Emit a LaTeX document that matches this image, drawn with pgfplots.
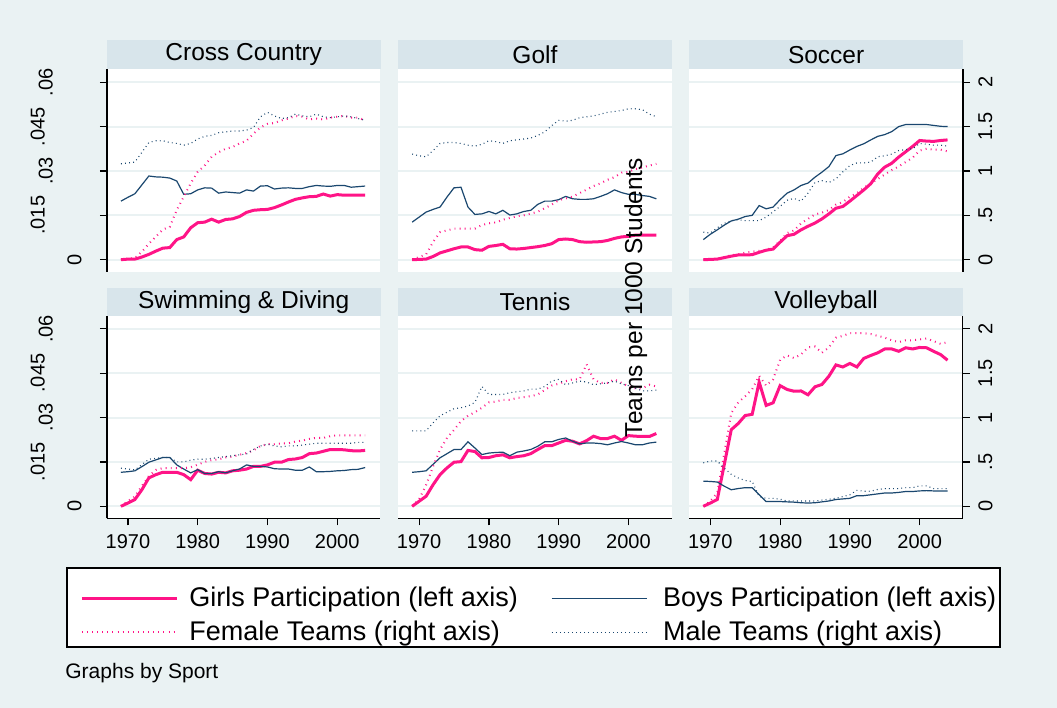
\documentclass[border=0pt]{standalone}
\usepackage{pgfplots}
\usepackage{pgfplotstable}
\pgfplotsset{compat=1.18}
\usepackage{fontspec}
\setmainfont{Liberation Sans}
\definecolor{bgc}{RGB}{234,242,243}
\definecolor{stripc}{RGB}{216,229,235}
\definecolor{gridc}{RGB}{234,242,243}
\definecolor{pinkc}{RGB}{255,20,135}
\definecolor{navyc}{RGB}{26,71,111}
\newcommand\dep[1]{\rule[-#1]{0pt}{#1}}

\pgfplotstableread{
year g b f m
1969 0.0000 0.0198 0.00 1.08
1970 0.0002 0.0211 0.01 1.09
1971 0.0002 0.0223 0.02 1.10
1972 0.0009 0.0253 0.09 1.21
1973 0.0018 0.0283 0.18 1.32
1974 0.0029 0.0280 0.26 1.34
1975 0.0039 0.0279 0.34 1.34
1976 0.0041 0.0276 0.37 1.32
1977 0.0068 0.0266 0.56 1.31
1978 0.0077 0.0221 0.71 1.29
1979 0.0108 0.0223 0.86 1.31
1980 0.0125 0.0236 0.99 1.36
1981 0.0127 0.0243 1.06 1.39
1982 0.0137 0.0242 1.16 1.40
1983 0.0127 0.0225 1.21 1.43
1984 0.0136 0.0229 1.25 1.44
1985 0.0138 0.0227 1.27 1.45
1986 0.0146 0.0225 1.31 1.45
1987 0.0160 0.0236 1.34 1.46
1988 0.0167 0.0232 1.42 1.49
1989 0.0169 0.0249 1.49 1.61
1990 0.0170 0.0250 1.53 1.66
1991 0.0176 0.0239 1.54 1.62
1992 0.0185 0.0242 1.57 1.59
1993 0.0195 0.0243 1.59 1.60
1994 0.0204 0.0241 1.62 1.64
1995 0.0209 0.0241 1.61 1.62
1996 0.0213 0.0247 1.58 1.61
1997 0.0214 0.0251 1.59 1.64
1998 0.0222 0.0249 1.58 1.61
1999 0.0215 0.0248 1.60 1.60
2000 0.0220 0.0251 1.61 1.61
2001 0.0218 0.0251 1.62 1.62
2002 0.0218 0.0245 1.60 1.61
2003 0.0218 0.0247 1.60 1.59
2004 0.0218 0.0249 1.57 1.57
}\tCC

\pgfplotstableread{
year g b f m
1969 0.0000 0.0127 0.00 1.19
1970 0.0001 0.0144 0.03 1.17
1971 0.0002 0.0161 0.06 1.16
1972 0.0011 0.0170 0.20 1.23
1973 0.0023 0.0178 0.31 1.31
1974 0.0030 0.0212 0.33 1.32
1975 0.0037 0.0243 0.35 1.32
1976 0.0043 0.0245 0.35 1.31
1977 0.0043 0.0178 0.35 1.29
1978 0.0034 0.0153 0.35 1.28
1979 0.0032 0.0155 0.39 1.30
1980 0.0045 0.0163 0.41 1.34
1981 0.0048 0.0155 0.42 1.33
1982 0.0052 0.0167 0.45 1.31
1983 0.0037 0.0151 0.47 1.34
1984 0.0036 0.0155 0.49 1.35
1985 0.0038 0.0163 0.50 1.36
1986 0.0041 0.0167 0.52 1.37
1987 0.0044 0.0187 0.54 1.40
1988 0.0048 0.0198 0.58 1.44
1989 0.0054 0.0198 0.62 1.51
1990 0.0068 0.0203 0.67 1.57
1991 0.0070 0.0214 0.69 1.56
1992 0.0068 0.0206 0.71 1.57
1993 0.0061 0.0204 0.75 1.60
1994 0.0059 0.0204 0.79 1.61
1995 0.0060 0.0206 0.83 1.62
1996 0.0061 0.0214 0.86 1.64
1997 0.0065 0.0223 0.90 1.66
1998 0.0072 0.0236 0.93 1.67
1999 0.0077 0.0227 0.98 1.68
2000 0.0079 0.0221 0.99 1.70
2001 0.0083 0.0221 1.02 1.70
2002 0.0083 0.0217 1.04 1.69
2003 0.0083 0.0214 1.06 1.64
2004 0.0083 0.0206 1.08 1.61
}\tGolf

\pgfplotstableread{
year g b f m
1969 0.0000 0.0068 0.00 0.31
1970 0.0001 0.0086 0.00 0.30
1971 0.0002 0.0101 0.01 0.36
1972 0.0007 0.0117 0.03 0.41
1973 0.0012 0.0131 0.05 0.44
1974 0.0016 0.0137 0.06 0.45
1975 0.0016 0.0146 0.08 0.44
1976 0.0017 0.0150 0.09 0.44
1977 0.0025 0.0183 0.10 0.44
1978 0.0032 0.0172 0.11 0.48
1979 0.0036 0.0178 0.14 0.54
1980 0.0059 0.0203 0.21 0.60
1981 0.0081 0.0225 0.30 0.67
1982 0.0086 0.0236 0.33 0.69
1983 0.0101 0.0251 0.41 0.66
1984 0.0113 0.0259 0.46 0.75
1985 0.0124 0.0279 0.51 0.87
1986 0.0138 0.0296 0.53 0.89
1987 0.0155 0.0315 0.56 0.87
1988 0.0174 0.0352 0.62 0.91
1989 0.0180 0.0358 0.65 0.99
1990 0.0198 0.0371 0.71 1.06
1991 0.0217 0.0383 0.75 1.09
1992 0.0236 0.0392 0.81 1.09
1993 0.0257 0.0405 0.86 1.10
1994 0.0290 0.0417 0.91 1.16
1995 0.0313 0.0423 0.96 1.17
1996 0.0326 0.0433 1.01 1.19
1997 0.0347 0.0450 1.05 1.23
1998 0.0365 0.0457 1.10 1.24
1999 0.0383 0.0457 1.15 1.25
2000 0.0403 0.0457 1.23 1.31
2001 0.0401 0.0457 1.25 1.30
2002 0.0400 0.0454 1.24 1.29
2003 0.0403 0.0451 1.24 1.29
2004 0.0405 0.0450 1.22 1.28
}\tSoc

\pgfplotstableread{
year g b f m
1969 0.0000 0.0115 0.00 0.43
1970 0.0011 0.0117 0.06 0.42
1971 0.0023 0.0120 0.11 0.41
1972 0.0056 0.0134 0.23 0.47
1973 0.0096 0.0149 0.34 0.53
1974 0.0107 0.0157 0.41 0.54
1975 0.0115 0.0165 0.43 0.55
1976 0.0115 0.0165 0.43 0.55
1977 0.0115 0.0140 0.43 0.50
1978 0.0107 0.0126 0.43 0.50
1979 0.0090 0.0113 0.44 0.52
1980 0.0122 0.0124 0.47 0.53
1981 0.0111 0.0111 0.50 0.53
1982 0.0109 0.0111 0.52 0.54
1983 0.0115 0.0117 0.53 0.55
1984 0.0113 0.0113 0.55 0.56
1985 0.0120 0.0120 0.56 0.57
1986 0.0122 0.0126 0.58 0.58
1987 0.0126 0.0140 0.60 0.59
1988 0.0135 0.0135 0.63 0.64
1989 0.0135 0.0135 0.68 0.68
1990 0.0140 0.0133 0.70 0.70
1991 0.0149 0.0127 0.70 0.68
1992 0.0149 0.0126 0.71 0.67
1993 0.0158 0.0126 0.71 0.68
1994 0.0160 0.0122 0.73 0.68
1995 0.0165 0.0122 0.74 0.69
1996 0.0178 0.0133 0.76 0.70
1997 0.0180 0.0117 0.77 0.71
1998 0.0186 0.0117 0.77 0.71
1999 0.0192 0.0118 0.79 0.71
2000 0.0192 0.0120 0.80 0.71
2001 0.0191 0.0121 0.80 0.71
2002 0.0188 0.0124 0.80 0.71
2003 0.0187 0.0125 0.80 0.72
2004 0.0189 0.0131 0.80 0.72
}\tSwim

\pgfplotstableread{
year g b f m
1969 0.0000 0.0115 0.00 0.85
1970 0.0017 0.0117 0.08 0.85
1971 0.0034 0.0120 0.24 0.85
1972 0.0073 0.0142 0.45 0.94
1973 0.0107 0.0164 0.64 1.02
1974 0.0130 0.0178 0.77 1.06
1975 0.0149 0.0192 0.86 1.10
1976 0.0151 0.0192 0.96 1.11
1977 0.0189 0.0218 1.02 1.13
1978 0.0185 0.0197 1.06 1.17
1979 0.0164 0.0175 1.11 1.35
1980 0.0165 0.0180 1.17 1.26
1981 0.0171 0.0182 1.18 1.26
1982 0.0174 0.0183 1.20 1.26
1983 0.0164 0.0171 1.20 1.28
1984 0.0168 0.0183 1.22 1.29
1985 0.0171 0.0187 1.23 1.30
1986 0.0178 0.0192 1.24 1.32
1987 0.0192 0.0203 1.26 1.32
1988 0.0205 0.0218 1.31 1.35
1989 0.0205 0.0218 1.36 1.41
1990 0.0214 0.0226 1.38 1.43
1991 0.0223 0.0231 1.41 1.37
1992 0.0220 0.0220 1.43 1.39
1993 0.0211 0.0211 1.43 1.41
1994 0.0222 0.0214 1.60 1.40
1995 0.0237 0.0214 1.43 1.37
1996 0.0229 0.0212 1.39 1.38
1997 0.0229 0.0208 1.39 1.39
1998 0.0237 0.0214 1.43 1.41
1999 0.0223 0.0219 1.39 1.38
2000 0.0239 0.0214 1.35 1.36
2001 0.0237 0.0208 1.33 1.33
2002 0.0236 0.0208 1.33 1.30
2003 0.0236 0.0214 1.37 1.30
2004 0.0246 0.0217 1.35 1.31
}\tTen

\pgfplotstableread{
year g b f m
1969 0.0000 0.0085 0.00 0.49
1970 0.0011 0.0084 0.06 0.51
1971 0.0023 0.0082 0.15 0.51
1972 0.0141 0.0068 0.60 0.43
1973 0.0259 0.0056 1.05 0.36
1974 0.0280 0.0060 1.17 0.32
1975 0.0307 0.0063 1.24 0.29
1976 0.0311 0.0063 1.32 0.28
1977 0.0420 0.0039 1.47 0.11
1978 0.0341 0.0016 1.36 0.09
1979 0.0350 0.0016 1.43 0.09
1980 0.0408 0.0016 1.65 0.08
1981 0.0395 0.0015 1.70 0.06
1982 0.0389 0.0014 1.67 0.06
1983 0.0390 0.0012 1.71 0.06
1984 0.0377 0.0011 1.79 0.06
1985 0.0404 0.0012 1.80 0.06
1986 0.0412 0.0015 1.73 0.07
1987 0.0440 0.0018 1.79 0.08
1988 0.0478 0.0023 1.90 0.09
1989 0.0471 0.0025 1.92 0.11
1990 0.0483 0.0027 1.95 0.13
1991 0.0471 0.0036 1.95 0.18
1992 0.0500 0.0036 1.95 0.17
1993 0.0510 0.0039 1.94 0.17
1994 0.0519 0.0042 1.92 0.19
1995 0.0532 0.0045 1.90 0.20
1996 0.0532 0.0045 1.87 0.20
1997 0.0524 0.0047 1.85 0.20
1998 0.0536 0.0050 1.87 0.21
1999 0.0532 0.0050 1.87 0.21
2000 0.0537 0.0052 1.88 0.23
2001 0.0536 0.0053 1.89 0.23
2002 0.0524 0.0052 1.86 0.20
2003 0.0513 0.0052 1.83 0.20
2004 0.0494 0.0052 1.85 0.20
}\tVol

\pgfplotsset{
  base/.style={scale only axis, width=136.75pt, height=101.25pt,
    xmin=1967, xmax=2006.2, anchor=south west, clip=true,
    scaled x ticks=false, scaled y ticks=false,
    xtick={1970,1980,1990,2000}, xticklabels={1970,1980,1990,2000},
    tick align=outside, major tick length=3.5pt,
    axis line style={black, line width=0.6pt},
    tick style={black, line width=0.6pt},
    ticklabel style={font=\fontsize{10}{12}\selectfont},
    xticklabel style={anchor=north, inner xsep=0pt, inner ysep=4.5pt},
  },
  L/.style={base, ymin=-0.00406, ymax=0.0644, ytick={0,0.015,0.03,0.045,0.06},
    axis background/.style={fill=white},
    ymajorgrids, major grid style={gridc, line width=1pt},
    axis x line*=bottom, axis y line*=left,
    yticklabels={{0},{\dep{18.5pt}.015},{\dep{14.5pt}.03},{\dep{18.5pt}.045},{\dep{14.5pt}.06}},
    yticklabel style={rotate=90, anchor=south, inner xsep=0pt, inner ysep=9pt},
  },
  R/.style={base, ymin=-0.1352, ymax=2.146, ytick={0,0.5,1,1.5,2},
    hide x axis, axis y line*=right,
    yticklabels={0,.5,1,1.5,2},
    yticklabel style={rotate=90, anchor=north, inner xsep=0pt, inner ysep=4pt},
  },
  noleft/.style={y axis line style={draw=none}, ytick style={draw=none}, yticklabels={}},
  top/.style={x axis line style={draw=none}, xtick style={draw=none}, xticklabels={}},
  noright/.style={hide y axis},
  girls/.style={pinkc, line width=1.5pt, no markers},
  boys/.style={navyc, line width=0.6pt, no markers},
  fem/.style={pinkc, line width=1pt, dash pattern=on 0.45pt off 2.1pt, no markers},
  mal/.style={navyc, line width=0.55pt, dash pattern=on 0.45pt off 1.6pt, no markers},
}

\begin{document}
\begin{tikzpicture}
\begin{scope}[x=0.5pt,y=-0.5pt]
\fill[bgc] (0,0) rectangle (1057,708);
\useasboundingbox (0,0) rectangle (1057,708);
\filldraw[fill=white, draw=black, line width=0.7pt] (67,568) rectangle (1000,647);
\end{scope}

% Row 1
\begin{axis}[L, top, at={(53.5pt,-135.85pt)}]
\addplot[girls] table[x=year,y=g]{\tCC};
\addplot[boys] table[x=year,y=b]{\tCC};
\end{axis}
\begin{axis}[R, noright, at={(53.5pt,-135.85pt)}]
\addplot[fem] table[x=year,y=f]{\tCC};
\addplot[mal] table[x=year,y=m]{\tCC};
\end{axis}

\begin{axis}[L, top, noleft, at={(199.1pt,-135.85pt)}]
\addplot[girls] table[x=year,y=g]{\tGolf};
\addplot[boys] table[x=year,y=b]{\tGolf};
\end{axis}
\begin{axis}[R, noright, at={(199.1pt,-135.85pt)}]
\addplot[fem] table[x=year,y=f]{\tGolf};
\addplot[mal] table[x=year,y=m]{\tGolf};
\end{axis}

\begin{axis}[L, top, noleft, at={(344.7pt,-135.85pt)}]
\addplot[girls] table[x=year,y=g]{\tSoc};
\addplot[boys] table[x=year,y=b]{\tSoc};
\end{axis}
\begin{axis}[R, at={(344.7pt,-135.85pt)}]
\addplot[fem] table[x=year,y=f]{\tSoc};
\addplot[mal] table[x=year,y=m]{\tSoc};
\end{axis}

% Row 2
\begin{axis}[L, at={(53.5pt,-259.15pt)}]
\addplot[girls] table[x=year,y=g]{\tSwim};
\addplot[boys] table[x=year,y=b]{\tSwim};
\end{axis}
\begin{axis}[R, noright, at={(53.5pt,-259.15pt)}]
\addplot[fem] table[x=year,y=f]{\tSwim};
\addplot[mal] table[x=year,y=m]{\tSwim};
\end{axis}

\begin{axis}[L, noleft, at={(199.1pt,-259.15pt)}]
\addplot[girls] table[x=year,y=g]{\tTen};
\addplot[boys] table[x=year,y=b]{\tTen};
\end{axis}
\begin{axis}[R, noright, at={(199.1pt,-259.15pt)}]
\addplot[fem] table[x=year,y=f]{\tTen};
\addplot[mal] table[x=year,y=m]{\tTen};
\end{axis}

\begin{axis}[L, noleft, at={(344.7pt,-259.15pt)}]
\addplot[girls] table[x=year,y=g]{\tVol};
\addplot[boys] table[x=year,y=b]{\tVol};
\end{axis}
\begin{axis}[R, at={(344.7pt,-259.15pt)},
  legend columns=2, legend cell align=left,
  legend style={at={(axis description cs:-2.2282,-0.3195)}, anchor=north west,
    draw=none, fill=none, inner xsep=0pt, inner ysep=0pt,
    font=\fontsize{13.5}{16}\selectfont,
    /tikz/every odd column/.append style={column sep=3.5pt},
    /tikz/every even column/.append style={column sep=14.5pt},
    row sep=1.5pt},
  legend image code/.code={\draw[#1] (0pt,0pt) -- (47.5pt,0pt);},
]
\addlegendimage{girls}
\addlegendentry{Girls Participation (left axis)}
\addlegendimage{boys}
\addlegendentry{\hspace{2.5pt}Boys Participation (left axis)}
\addlegendimage{fem}
\addlegendentry{Female Teams (right axis)}
\addlegendimage{mal}
\addlegendentry{\hspace{2.5pt}Male Teams (right axis)}
\addplot[fem, forget plot] table[x=year,y=f]{\tVol};
\addplot[mal, forget plot] table[x=year,y=m]{\tVol};
\end{axis}

\begin{scope}[x=0.5pt,y=-0.5pt]
\fill[stripc] (107,40) rectangle (380.5,69.2);
\fill[stripc] (398.2,40) rectangle (671.7,69.2);
\fill[stripc] (689.4,40) rectangle (962.9,69.2);
\fill[stripc] (107,288.3) rectangle (380.5,315.8);
\fill[stripc] (398.2,288.3) rectangle (671.7,315.8);
\fill[stripc] (689.4,288.3) rectangle (962.9,315.8);
\begin{scope}[every node/.style={font=\fontsize{12.25}{14}\selectfont, inner sep=0pt}]
\node at (243.75,54.6) {Cross Country};
\node at (534.95,54.6) {Golf};
\node at (826.15,54.6) {Soccer};
\node at (243.75,302) {Swimming \& Diving};
\node at (534.95,302) {Tennis};
\node at (826.15,302) {Volleyball};
\node[rotate=90, anchor=base] at (642,297.5) {Teams per 1000 Students};
\end{scope}
\node[anchor=west, inner sep=0pt, font=\fontsize{10.5}{12}\selectfont] at (65,673) {Graphs by Sport};
\end{scope}
\end{tikzpicture}
\end{document}
